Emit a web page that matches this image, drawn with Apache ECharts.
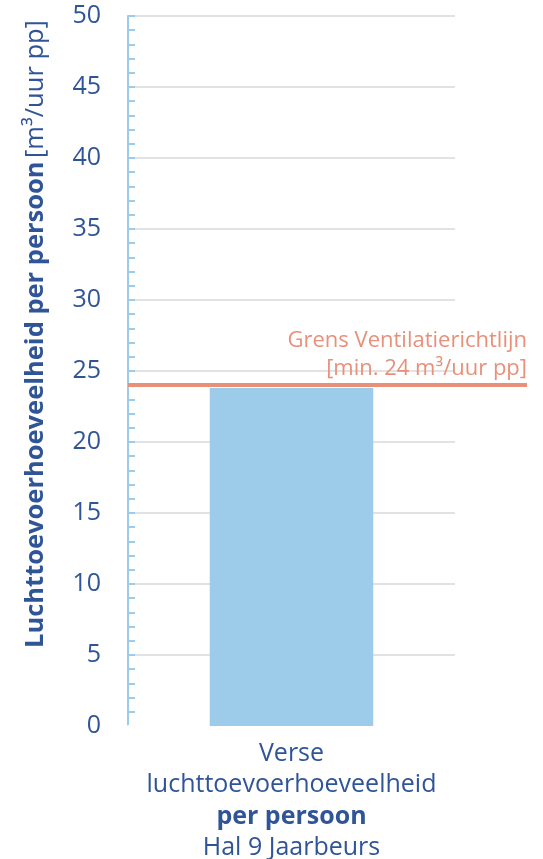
<!DOCTYPE html>
<html>
<head>
<meta charset="utf-8">
<script src="https://cdn.jsdelivr.net/npm/echarts@6/dist/echarts.min.js"></script>
<style>html,body{margin:0;padding:0;background:#fff}#c{width:543px;height:859px}</style>
</head>
<body>
<div id="c"></div>
<script>
var categories = ['Verse\nluchttoevoerhoeveelheid\nper persoon\nHal 9 Jaarbeurs'];
var values = [23.8];
var limitValue = 24;
var limitLabel = 'Grens Ventilatierichtlijn\n[min. 24 m³/uur pp]';
var yMin = 0, yMax = 50, yStep = 5;

var FONT = '"Open Sans", "Noto Sans", sans-serif';
var BLUE_TXT = '#2F5597';
var LIGHT = '#9DCBEA';
var SALMON = '#E9907A';

var chart = echarts.init(document.getElementById('c'), null, {renderer: 'canvas'});
chart.setOption({
  animation: false,
  grid: [
    {left: 128, right: 88, top: 16, bottom: 133, containLabel: false, outerBoundsMode: 'none'},
    {left: 128, right: 16, top: 16, bottom: 133, containLabel: false, outerBoundsMode: 'none'}
  ],
  xAxis: [
    {
      type: 'category', gridIndex: 0, data: categories, z: 1,
      axisLine: {show: true, lineStyle: {color: '#ffffff', width: 2}},
      axisTick: {show: false},
      axisLabel: {
        margin: 12,
        formatter: function (v) {
          var p = v.split('\n');
          return p[0] + '\n' + p[1] + '\n{b|' + p[2] + '}\n' + p[3];
        },
        color: BLUE_TXT, fontFamily: FONT, fontSize: 25, lineHeight: 31.5,
        rich: {b: {fontWeight: 'bold', color: BLUE_TXT, fontFamily: FONT, fontSize: 25, lineHeight: 31.5}}
      }
    },
    {type: 'category', gridIndex: 1, data: [''], show: false}
  ],
  yAxis: [
    {
      type: 'value', gridIndex: 0, min: yMin, max: yMax, interval: yStep,
      axisLine: {show: true, lineStyle: {color: LIGHT, width: 2}},
      axisTick: {show: true, inside: true, length: 7, lineStyle: {color: LIGHT, width: 2}},
      minorTick: {show: true, splitNumber: 5, length: 7, lineStyle: {color: LIGHT, width: 2}},
      splitLine: {show: true, lineStyle: {color: '#D9D9D9', width: 1.5}},
      axisLabel: {color: BLUE_TXT, fontFamily: FONT, fontSize: 25, margin: 27}
    },
    {type: 'value', gridIndex: 1, min: yMin, max: yMax, show: false}
  ],
  graphic: [{
    type: 'text',
    x: 36, y: 334,
    rotation: Math.PI / 2,
    style: {
      text: '{b|Luchttoevoerhoeveelheid per persoon} {n|[m³/uur pp]}',
      align: 'center', verticalAlign: 'middle',
      rich: {
        b: {fontWeight: 'bold', fontSize: 25.5, fontFamily: FONT, fill: BLUE_TXT},
        n: {fontSize: 25.5, fontFamily: FONT, fill: BLUE_TXT}
      }
    }
  }],
  series: [
    {
      type: 'bar', xAxisIndex: 0, yAxisIndex: 0, data: values,
      barWidth: '50%', itemStyle: {color: LIGHT}, z: 2
    },
    {
      type: 'line', xAxisIndex: 1, yAxisIndex: 1, data: [null], z: 5,
      symbol: 'none',
      markLine: {
        silent: true, symbol: ['none', 'none'],
        lineStyle: {color: SALMON, width: 4, type: 'solid'},
        label: {
          show: true, position: 'insideEndTop', formatter: limitLabel,
          color: SALMON, fontFamily: FONT, fontSize: 22, lineHeight: 28,
          align: 'right', distance: [0, 2]
        },
        data: [{yAxis: limitValue}]
      }
    }
  ]
});
</script>
</body>
</html>
